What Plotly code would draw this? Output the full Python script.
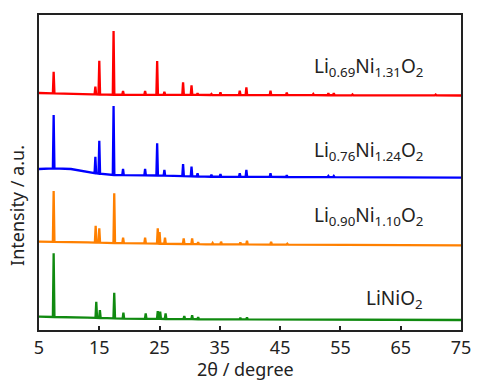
import numpy as np
import plotly.graph_objects as go

# ---------------- data ----------------
# x in degrees 2-theta, intensity in arbitrary units (stacked offsets included)
red_base_x = [5, 13.9, 17, 32.7, 75]
red_base_y = [237, 235.7, 235.3, 235, 234.5]
red_peak_x = [7.43, 14.35, 15.0, 17.37, 18.94, 22.6, 24.6, 25.8, 28.9, 30.3, 31.3, 33.6,
              35.1, 38.3, 39.4, 43.4, 46.1, 50.5, 53.0, 53.9, 57.0, 60.3, 65.1, 67.8, 70.8]
red_peak_y = [258.3, 243.3, 269.3, 299, 239, 239, 269, 238.3, 247.7, 244.7, 236.7, 236,
              237.7, 239.3, 242.7, 239.3, 237.3, 236, 236.7, 236.7, 235.5, 235.3, 235.3, 235.3, 235.3]

blue_base_x = [5, 7.4, 10.3, 13.1, 14.4, 17.4, 25, 32.7, 75]
blue_base_y = [161, 161.7, 161, 158.3, 156.7, 155, 154.5, 153.3, 152.3]
blue_peak_x = [7.43, 14.35, 15.0, 17.37, 18.94, 22.6, 24.6, 25.8, 28.9, 30.3, 31.3, 33.6,
               35.1, 38.3, 39.4, 43.4, 46.1, 53.0, 53.9]
blue_peak_y = [215, 173.3, 189.3, 224, 161, 161, 186.7, 160, 166, 163.3, 156.7, 155.3,
               156, 156.7, 160, 156.7, 154.7, 154, 154]

orange_base_x = [5, 13.1, 17, 32.7, 75]
orange_base_y = [88.3, 87.7, 87, 85.7, 84.7]
orange_peak_x = [7.43, 14.4, 15.0, 17.48, 18.95, 22.6, 24.7, 25.0, 25.9, 29.0, 30.4, 31.4,
                 33.8, 35.2, 38.4, 39.5, 43.5, 46.2]
orange_peak_y = [139, 104.3, 101.7, 136.7, 92.3, 92.3, 101.7, 98, 92.3, 91.7, 91.7, 87.7,
                 87, 88.3, 87.7, 89.3, 88.3, 86.3]

green_base_x = [5, 13, 20, 32.7, 75]
green_base_y = [13.3, 12.3, 11.3, 10.7, 10]
green_peak_x = [7.43, 14.5, 15.1, 17.48, 19.0, 22.7, 24.7, 25.1, 26.0, 29.1, 30.4, 31.4, 38.4, 39.5]
green_peak_y = [76.7, 28.3, 20, 37.3, 17.3, 16.7, 19, 18.3, 16.7, 14, 14.7, 12.7, 12.3, 12.7]

series_names = ["Li<sub>0.69</sub>Ni<sub>1.31</sub>O<sub>2</sub>",
                "Li<sub>0.76</sub>Ni<sub>1.24</sub>O<sub>2</sub>",
                "Li<sub>0.90</sub>Ni<sub>1.10</sub>O<sub>2</sub>",
                "LiNiO<sub>2</sub>"]
series_colors = ["#FF0000", "#0000FF", "#FF8000", "#108A10"]
label_y = [263, 179, 114, 31]

x_ticks = [5, 15, 25, 35, 45, 55, 65, 75]


def build(bx, by, pk_x, pk_y, hw=0.13):
    pts = []
    for p, t in zip(pk_x, pk_y):
        f = float(np.interp(p, bx, by))
        pts += [(p - hw, f), (p, t), (p + hw, f)]
    for x, y in zip(bx, by):
        if all(abs(x - p) > hw for p in pk_x):
            pts.append((x, y))
    pts.sort(key=lambda q: q[0])
    return [q[0] for q in pts], [q[1] for q in pts]


data = [
    (red_base_x, red_base_y, red_peak_x, red_peak_y),
    (blue_base_x, blue_base_y, blue_peak_x, blue_peak_y),
    (orange_base_x, orange_base_y, orange_peak_x, orange_peak_y),
    (green_base_x, green_base_y, green_peak_x, green_peak_y),
]

FONT = "Noto Sans"
fig = go.Figure()
for (bx, by, kx, ky), name, col in zip(data, series_names, series_colors):
    xs, ys = build(bx, by, kx, ky)
    fig.add_trace(go.Scatter(x=xs, y=ys, mode="lines", name=name,
                             line=dict(color=col, width=2.3), showlegend=False,
                             hoverinfo="skip"))

for name, yv in zip(series_names, label_y):
    fig.add_annotation(x=69.0, y=yv, xref="x", yref="y", text=name, showarrow=False,
                       xanchor="right", yanchor="middle",
                       font=dict(family=FONT, size=19, color="#222"))

fig.add_annotation(text="Intensity / a.u.", xref="paper", yref="paper", x=0, y=0.394,
                   xanchor="right", yanchor="middle", xshift=-8, textangle=-90,
                   showarrow=False, font=dict(family=FONT, size=18, color="#222"))
fig.add_annotation(text="2θ / degree", xref="paper", yref="paper", x=0.5, y=0,
                   xanchor="center", yanchor="top", yshift=-25, xshift=-5,
                   showarrow=False, font=dict(family=FONT, size=18, color="#222"))

fig.update_layout(
    width=482, height=385,
    margin=dict(l=39, r=11, t=15, b=55),
    paper_bgcolor="white", plot_bgcolor="white",
    font=dict(family=FONT, size=18, color="#222"),
)
fig.update_xaxes(range=[5, 75], tickvals=x_ticks, ticktext=[str(v) for v in x_ticks],
                 ticks="inside", ticklen=4, tickwidth=1.5, tickcolor="#222",
                 showline=True, linecolor="#222", linewidth=2, mirror=True,
                 showgrid=False, zeroline=False, tickfont=dict(size=18))
fig.update_yaxes(range=[0, 315], showticklabels=False, ticks="",
                 showline=True, linecolor="#222", linewidth=2, mirror=True,
                 showgrid=False, zeroline=False)

fig.write_html("out.html", config={"displayModeBar": False},
               post_script="document.body.style.margin='0';document.body.style.overflow='hidden';")
